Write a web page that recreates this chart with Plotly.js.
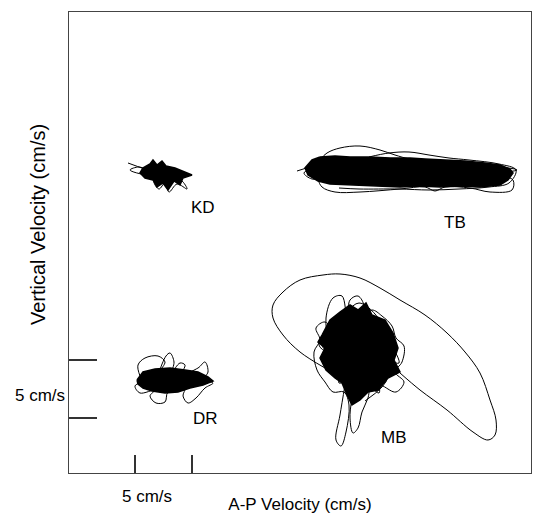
<!DOCTYPE html>
<html>
<head>
<meta charset="utf-8">
<script src="https://cdn.plot.ly/plotly-3.0.1.min.js"></script>
<style>html,body{margin:0;padding:0;background:#fff;}#chart{width:535px;height:514px;}</style>
</head>
<body>
<div id="chart"></div>
<script>
// Values, in picture units (x: A-P velocity, y: vertical velocity).
// Scale bars: 5 cm/s spans ~57 units on each axis.
const xScaleBar = [66, 123];
const yScaleBar = [55, 113];

// KD
const kdCoreX = [74,81,84,88,93,97,106,116,123,114,111,105,99,94,88,84,76,71,74];
const kdCoreY = [305,309,313,308,312,307,305,301,298,295,288,292,283,290,286,293,295,300,305];
const kdLoopX = [59,81,70,61,78,95,112,118,108,100,96,90,85,102,120];
const kdLoopY = [310,302,306,303,298,299,293,284,289,281,290,284,292,300,297];

// TB
const tbCoreX = [251,266,281,301,321,341,356,376,396,416,431,441,444,439,431,411,391,371,351,331,306,281,261,249,239,236,243,251];
const tbCoreY = [316,317,316,316,315,315,314,313,312,310,308,304,300,293,288,286,287,286,287,286,287,288,289,292,298,305,313,316];
const tbLoopX = [228,246,258,271,291,311,326,341,371,411,448,430,444,443,421,401,376,366,356,331,291,266,253,250,262,243,235,246];
const tbLoopY = [302,309,320,325,327,323,318,314,312,308,303,299,293,283,281,285,286,282,286,284,281,281,286,293,296,294,300,306];
const tbLoop2X = [300,320,340,360,380,400,430,447,440,420,390,360,330,290,270];
const tbLoop2Y = [316,320,321,318,315,313,309,303,290,286,284,283,284,284,285];

// DR
const drCoreX = [68,74,86,101,116,129,139,144,134,121,109,96,83,74,69,68];
const drCoreY = [93,101,104,105,103,101,96,92,88,85,81,80,82,85,89,93];
const drLoopX = [71,69,76,89,96,91,97,101,105,103,111,116,113,129,136,139,134,144,136,127,119,114,116,99,96,87,81,86,71,66,73];
const drLoopY = [97,108,115,117,111,103,117,120,111,101,110,108,99,105,111,101,93,90,85,75,70,77,85,81,71,70,77,83,80,87,91];

// MB
const mbCoreX = [253,261,271,281,289,297,303,316,324,329,325,331,319,309,299,291,283,278,273,266,257,251,256,249,253];
const mbCoreY = [138,153,161,168,163,170,158,153,140,125,113,101,95,83,81,73,68,78,90,95,103,115,125,131,138];
const mbLoopX = [261,257,264,273,278,281,289,295,291,303,313,323,327,335,333,326,335,327,314,303,299,293,289,284,281,283];
const mbLoopY = [123,155,175,177,155,173,177,167,155,163,157,147,135,127,111,101,91,81,87,93,75,61,45,40,55,75];
const mbLoop2X = [276,271,267,272,277,280,275,264,256,248,245,251,247,256,265,253,266,286,306,316,301,281,271,286,311];
const mbLoop2Y = [88,58,33,27,41,68,81,81,91,103,121,133,145,151,138,128,118,133,128,108,98,103,121,148,143];
const mbLoop3X = [255,290,320,270,300,330,262,310,285,250,318,296];
const mbLoop3Y = [120,170,130,90,150,110,140,80,160,128,96,72];
const mbBigLoopX = [331,351,378,404,419,426,427,421,411,396,378,356,331,311,291,271,254,231,214,204,204,214,231,256];
const mbBigLoopY = [100,83,63,41,33,38,53,73,100,121,140,158,173,185,195,199,198,193,181,168,155,138,121,105];

const groupLabels = ['KD', 'TB', 'DR', 'MB'];
const labelX = [134, 386, 136, 325];
const labelY = [266, 251, 55, 36];

function core(x, y) {
  return {x: x, y: y, mode: 'lines', fill: 'toself', fillcolor: '#000',
          line: {color: '#000', width: 1.5},
          hoverinfo: 'skip', showlegend: false};
}
function loop(x, y) {
  return {x: x, y: y, mode: 'lines',
          line: {color: '#000', width: 1, shape: 'spline', smoothing: 1},
          hoverinfo: 'skip', showlegend: false};
}

const traces = [
  core(kdCoreX, kdCoreY), loop(kdLoopX, kdLoopY),
  core(tbCoreX, tbCoreY), loop(tbLoopX, tbLoopY), loop(tbLoop2X, tbLoop2Y),
  core(drCoreX, drCoreY), loop(drLoopX, drLoopY),
  core(mbCoreX, mbCoreY), loop(mbLoopX, mbLoopY), loop(mbLoop2X, mbLoop2Y), loop(mbLoop3X, mbLoop3Y),
  loop(mbBigLoopX, mbBigLoopY)
];

const font = {family: 'Liberation Sans, Arial, sans-serif', color: '#000'};
function f(size) { return Object.assign({}, font, {size: size}); }
const annotations = groupLabels.map((t, i) => ({
  x: labelX[i], y: labelY[i], xref: 'x', yref: 'y', text: t, showarrow: false,
  xanchor: 'center', yanchor: 'middle', font: f(17)
}));
annotations.push({x: 77.5, y: -0.05, xref: 'x', yref: 'paper', text: '5 cm/s', showarrow: false,
  xanchor: 'center', yanchor: 'middle', font: f(17)});
annotations.push({x: -0.063, y: 78, xref: 'paper', yref: 'y', text: '5 cm/s', showarrow: false,
  xanchor: 'center', yanchor: 'middle', font: f(17)});
annotations.push({x: -0.067, y: 0.538, xref: 'paper', yref: 'paper', text: 'Vertical Velocity (cm/s)',
  textangle: -90, showarrow: false, xanchor: 'center', yanchor: 'middle', font: f(20)});

const layout = {
  width: 535, height: 514,
  margin: {l: 69, r: 4, t: 12, b: 41},
  paper_bgcolor: '#fff', plot_bgcolor: '#fff',
  showlegend: false,
  xaxis: {
    range: [0, 462], showgrid: false, zeroline: false, showticklabels: false,
    showline: true, mirror: true, linecolor: '#444', linewidth: 1.3,
    tickmode: 'array', tickvals: xScaleBar, ticks: 'inside', ticklen: 18, tickcolor: '#333', tickwidth: 1.2,
    title: {text: 'A-P Velocity (cm/s)', standoff: 30, font: f(17)},
    automargin: false
  },
  yaxis: {
    range: [0, 461], showgrid: false, zeroline: false, showticklabels: false,
    showline: true, mirror: true, linecolor: '#444', linewidth: 1.3,
    tickmode: 'array', tickvals: yScaleBar, ticks: 'inside', ticklen: 28, tickcolor: '#333', tickwidth: 1.2,
    automargin: false
  },
  annotations: annotations
};

Plotly.newPlot('chart', traces, layout, {staticPlot: true, displayModeBar: false});
</script>
</body>
</html>
